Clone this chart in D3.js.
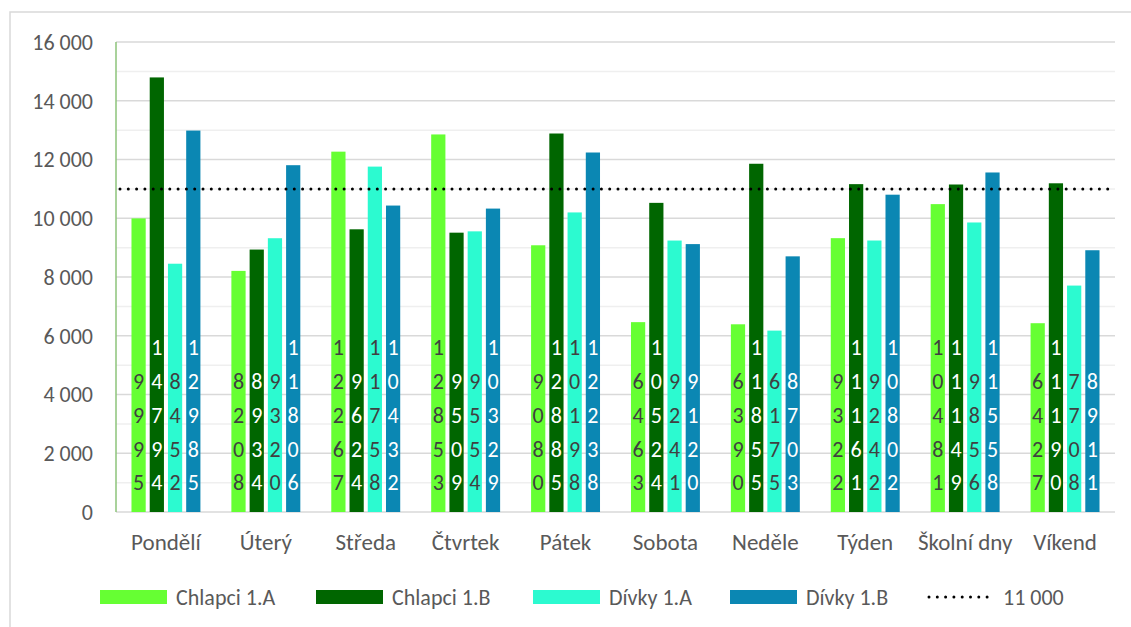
<!DOCTYPE html>
<html>
<head>
<meta charset="utf-8">
<script src="https://cdn.jsdelivr.net/npm/d3@7"></script>
<style>
  body { margin: 0; background: #fff; }
  svg text { font-family: Carlito, Lato, "Open Sans", sans-serif; }
</style>
</head>
<body>
<svg id="chart" width="1131" height="627"></svg>
<script>
// data
let categories = ['Pondělí', 'Úterý', 'Středa', 'Čtvrtek', 'Pátek', 'Sobota', 'Neděle', 'Týden', 'Školní dny', 'Víkend'];
let seriesNames = ['Chlapci 1.A', 'Chlapci 1.B', 'Dívky 1.A', 'Dívky 1.B'];
let chlapci1A = [9995, 8208, 12267, 12853, 9080, 6463, 6390, 9322, 10481, 6427];
let chlapci1B = [14794, 8934, 9624, 9509, 12885, 10524, 11855, 11161, 11149, 11190];
let divky1A = [8452, 9320, 11758, 9554, 10198, 9241, 6175, 9242, 9856, 7708];
let divky1B = [12985, 11806, 10432, 10329, 12238, 9120, 8703, 10802, 11558, 8911];
let target = 11000;
let yTicks = d3.range(0, 16001, 2000);

let colors = ['#66ff33', '#006600', '#2cfad0', '#0b87b3'];
let labelColors = ['#404040', '#ffffff', '#404040', '#ffffff'];

let fmt = v => d3.format(',')(v).replace(/,/g, ' ');

let svg = d3.select('#chart');

// chart frame
svg.append('rect')
  .attr('x', 10).attr('y', 12)
  .attr('width', 1140).attr('height', 640)
  .attr('fill', 'none')
  .attr('stroke', '#d9d9d9')
  .attr('stroke-width', 1.5);

let plot = {left: 116, right: 1115, top: 42, bottom: 512};

let y = d3.scaleLinear()
  .domain([0, 16000])
  .range([plot.bottom, plot.top]);

let x0 = d3.scaleBand()
  .domain(categories)
  .range([plot.left, plot.right])
  .paddingInner(0.31)
  .paddingOuter(0.155);

let x1 = d3.scaleBand()
  .domain(seriesNames)
  .range([0, x0.bandwidth()])
  .paddingInner(0.22);

// gridlines, every 1000, stronger every 2000
let grid = svg.append('g').attr('class', 'grid');
grid.selectAll('line')
  .data(d3.range(1000, 16001, 1000))
  .enter()
  .append('line')
  .attr('x1', plot.left).attr('x2', plot.right)
  .attr('y1', d => y(d)).attr('y2', d => y(d))
  .attr('stroke', d => d % 2000 == 0 ? '#d9d9d9' : '#efefef')
  .attr('stroke-width', 1.5);

// x axis line
svg.append('line')
  .attr('x1', plot.left).attr('x2', plot.right)
  .attr('y1', y(0)).attr('y2', y(0))
  .attr('stroke', '#d9d9d9')
  .attr('stroke-width', 1.5);

// y tick labels
svg.append('g')
  .selectAll('text')
  .data(yTicks)
  .enter()
  .append('text')
  .attr('x', 93)
  .attr('y', d => y(d))
  .attr('dy', '0.36em')
  .attr('text-anchor', 'end')
  .style('font-size', '22px')
  .style('fill', '#595959')
  .text(fmt);

// category labels
svg.append('g')
  .selectAll('text')
  .data(categories)
  .enter()
  .append('text')
  .attr('x', d => x0(d) + x0.bandwidth() / 2)
  .attr('y', 550)
  .attr('text-anchor', 'middle')
  .style('font-size', '23px')
  .style('fill', '#595959')
  .text(d => d);

let table = categories.map((c, i) => ({
  cat: c,
  vals: [chlapci1A[i], chlapci1B[i], divky1A[i], divky1B[i]]
}));

let groups = svg.append('g')
  .selectAll('g.group')
  .data(table)
  .enter()
  .append('g')
  .attr('class', 'group')
  .attr('transform', d => `translate(${x0(d.cat)},0)`);

let bars = groups.selectAll('g.bar')
  .data(d => d.vals.map((v, j) => ({name: seriesNames[j], value: v, j: j})))
  .enter()
  .append('g')
  .attr('class', 'bar');

bars.append('rect')
  .attr('x', d => x1(d.name))
  .attr('y', d => y(d.value))
  .attr('width', x1.bandwidth())
  .attr('height', d => y(0) - y(d.value))
  .attr('fill', d => colors[d.j]);

// stacked digit labels, read bottom-up
let step = 33.8;
bars.each(function(d){
  let digits = String(d.value).split('');
  let n = digits.length;
  d3.select(this).selectAll('text')
    .data(digits)
    .enter()
    .append('text')
    .attr('x', x1(d.name) + x1.bandwidth() / 2)
    .attr('y', (c, k) => y(0) - 29.5 - (n - 1 - k) * step)
    .attr('dy', '0.36em')
    .attr('text-anchor', 'middle')
    .style('font-size', '22px')
    .style('fill', labelColors[d.j])
    .text(c => c);
});

// target line
svg.append('line')
  .attr('x1', plot.left + 4).attr('x2', plot.right)
  .attr('y1', y(target)).attr('y2', y(target))
  .attr('stroke', '#000')
  .attr('stroke-width', 3)
  .attr('stroke-linecap', 'round')
  .attr('stroke-dasharray', '0,8.3');

// left axis line
svg.append('line')
  .attr('x1', plot.left).attr('x2', plot.left)
  .attr('y1', plot.top).attr('y2', plot.bottom)
  .attr('stroke', '#8cc37a')
  .attr('stroke-width', 1.5);

// legend
let legendX = [100, 316, 533, 730];
let legend = svg.append('g').attr('class', 'legend');
seriesNames.forEach((s, i) => {
  legend.append('rect')
    .attr('x', legendX[i]).attr('y', 590)
    .attr('width', 67).attr('height', 14)
    .attr('fill', colors[i]);
  legend.append('text')
    .attr('x', legendX[i] + 76).attr('y', 605)
    .style('font-size', '22px')
    .style('fill', '#595959')
    .text(s);
});
legend.append('line')
  .attr('x1', 929).attr('x2', 995)
  .attr('y1', 597).attr('y2', 597)
  .attr('stroke', '#000')
  .attr('stroke-width', 3)
  .attr('stroke-linecap', 'round')
  .attr('stroke-dasharray', '0,8.3');
legend.append('text')
  .attr('x', 1003).attr('y', 605)
  .style('font-size', '22px')
  .style('fill', '#595959')
  .text(fmt(target));
</script>
</body>
</html>
